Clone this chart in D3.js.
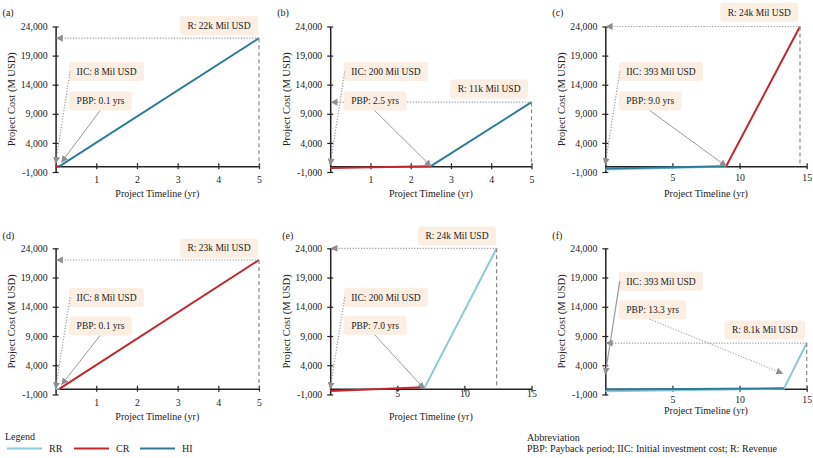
<!DOCTYPE html>
<html><head><meta charset="utf-8">
<script src="https://cdn.jsdelivr.net/npm/d3@7"></script>
<style>
body{margin:0;background:#fff}
svg text{font-family:"Liberation Serif","Times New Roman",Times,"Nimbus Roman","DejaVu Serif",serif !important;fill:#222}
</style></head><body>
<svg id="chart" width="813" height="458" font-family="Liberation Serif, Times New Roman, DejaVu Serif, serif"></svg>
<script>
// ---------- DATA ----------
const panelLabels = ["(a)","(b)","(c)","(d)","(e)","(f)"];
const xMaxes = [5,5,15,5,15,15];
const xTicksShort = [1,2,3,4,5];
const xTicksLong = [5,10,15];
const yTicks = [-1000,4000,9000,14000,19000,24000];
const seriesNames = ["RR","CR","HI"];

// [year, cumulative value (M USD)] per panel
const rrValues = [
  [],
  [],
  [[0,-560],[9,-60]],
  [[0,-10],[0.1,0]],
  [[7,0],[12.4,24000]],
  [[0,-450],[13.3,0],[15,7800]]
];
const crValues = [
  [[0,-10],[0.1,0]],
  [[0,-300],[2.5,0]],
  [[9,0],[14.5,24000]],
  [[0.1,0],[5,22000]],
  [[0,-400],[7,250]],
  []
];
const hiValues = [
  [[0.1,0],[5,22000]],
  [[2.5,0],[5,11000]],
  [[0,-400],[9,0]],
  [],
  [],
  [[0,-150],[13.3,50]]
];

const revenueLabels = ["R: 22k Mil USD","R: 11k Mil USD","R: 24k Mil USD","R: 23k Mil USD","R: 24k Mil USD","R: 8.1k Mil USD"];
const revenueX = [5,5,14.5,5,12.4,15];
const revenueY = [22000,11000,24000,22000,24000,7800];
const iicLabels = ["IIC: 8 Mil USD","IIC: 200 Mil USD","IIC: 393 Mil USD","IIC: 8 Mil USD","IIC: 200 Mil USD","IIC: 393 Mil USD"];
const iicTargetY = [500,200,300,0,0,2500];
const pbpLabels = ["PBP: 0.1 yrs","PBP: 2.5 yrs","PBP: 9.0 yrs","PBP: 0.1 yrs","PBP: 7.0 yrs","PBP: 13.3 yrs"];
const pbpTargetX = [0.15,2.5,9.0,0.15,7.0,13.2];
const pbpTargetY = [700,0,0,700,0,2600];

// ---------- LAYOUT ----------
const FONT = "'Liberation Serif','Times New Roman',Times,'DejaVu Serif',serif";
const colRanges = [[55.6,259],[330.2,531.5],[605.3,806.7]];
const rowRanges = [[172,26.5],[394.5,248.3]];
const revBoxRight = [258,528,798.3,258,496,805];   // px
const revBoxCy = [25.5,89,12.3,248,236,330];
const iicBoxCy = [71.5,71.5,71.5,297.5,297.2,281.2];
const pbpBoxCy = [101,101,101,326,325.3,309.7];
const xLabelDy = [13,13,11,14,5,11];
const xTitleY = [193.5,193.5,193.5,416.5,416.5,410];
const panelLabelDx = [53,53,53,53,48,53];
const panelLabelY = [12,12,12,235,235,235];
const colors = {RR:"#8cc8d8", CR:"#c1272d", HI:"#2f7c95"};

const svg = d3.select("#chart");
const defs = svg.append("defs");
defs.append("marker").attr("id","arr").attr("viewBox","0 0 10 10")
  .attr("refX",9).attr("refY",5).attr("markerWidth",7).attr("markerHeight",7)
  .attr("markerUnits","userSpaceOnUse").attr("orient","auto")
  .append("path").attr("d","M0,0L10,5L0,10z").attr("fill","#8f8f8f");

const fmt = d => d3.format(",")(d).replace("\u2212","-");
const grey = "#9a9a9a";

function T(sel, size){ return sel.style("font-family",FONT).style("font-size",size); }

panelLabels.forEach((lab,i)=>{
  const row = Math.floor(i/3), col = i%3;
  const x = d3.scaleLinear().domain([0,xMaxes[i]]).range(colRanges[col]);
  const y = d3.scaleLinear().domain([-1000,24000]).range(rowRanges[row]);
  const g = svg.append("g");
  const x0 = x(0);

  // panel label
  T(g.append("text").attr("x",x0-panelLabelDx[i]).attr("y",panelLabelY[i]).attr("dy","0.35em"),"10px").text(lab);

  // y axis
  const ya = g.append("g").attr("transform",`translate(${x0},0)`)
    .call(d3.axisLeft(y).tickValues(yTicks).tickFormat(fmt).tickSize(3).tickSizeOuter(0).tickPadding(5));
  ya.attr("font-family",null);
  ya.selectAll(".tick line").attr("x1",3).attr("x2",-3);
  ya.select(".domain").attr("stroke","#222").attr("stroke-width",1.5);
  ya.selectAll(".tick line").attr("stroke","#222").attr("stroke-width",1.2);
  T(ya.selectAll("text"),"9.8px").attr("fill","#222");

  // x axis at y=0
  const xt = xMaxes[i]===5 ? xTicksShort : xTicksLong;
  const xa = g.append("g").attr("transform",`translate(0,${y(0)})`)
    .call(d3.axisBottom(x).tickValues(xt).tickFormat(d=>String(d)).tickSize(3).tickSizeOuter(0));
  xa.attr("font-family",null);
  xa.selectAll(".tick line").attr("y1",-3).attr("y2",3).attr("stroke","#222").attr("stroke-width",1.2);
  xa.select(".domain").attr("stroke","#222").attr("stroke-width",1.5);
  T(xa.selectAll("text").attr("y",xLabelDy[i]).attr("dy","0.35em"),"9.8px").attr("fill","#222");

  // titles
  const yMid = (rowRanges[row][0]+rowRanges[row][1])/2;
  T(g.append("text").attr("transform",`translate(${x0-44},${yMid}) rotate(-90)`)
    .attr("text-anchor","middle").attr("dy","0.35em"),"10.5px").text("Project Cost (M USD)");
  T(g.append("text").attr("x",(x(0)+x(xMaxes[i]))/2).attr("y",xTitleY[i]).attr("dy","0.35em")
    .attr("text-anchor","middle"),"10px").text("Project Timeline (yr)");

  // series
  const line = d3.line().x(d=>x(d[0])).y(d=>y(d[1]));
  [["RR",rrValues[i]],["CR",crValues[i]],["HI",hiValues[i]]].forEach(([n,v])=>{
    if(v.length) g.append("path").datum(v).attr("d",line).attr("fill","none")
      .attr("stroke",colors[n]).attr("stroke-width",2);
  });

  // revenue guides
  const rx = x(revenueX[i]), ry = y(revenueY[i]);
  g.append("line").attr("x1",rx).attr("y1",ry).attr("x2",rx).attr("y2",y(0))
    .attr("stroke","#8a8a8a").attr("stroke-width",1.2).attr("stroke-dasharray","4,3");
  g.append("line").attr("x1",rx).attr("y1",ry).attr("x2",x0+1).attr("y2",ry)
    .attr("stroke",grey).attr("stroke-width",1.2).attr("stroke-dasharray","1.2,1.6").attr("marker-end","url(#arr)");

  function box(text, anchorX, cy, anchor){
    const t = T(g.append("text").attr("y",cy).attr("dy","0.35em"),"9.5px").text(text);
    const w = t.node().getComputedTextLength();
    const bw = w+15, bh = 19;
    const left = anchor==="right" ? anchorX-bw : anchorX;
    t.attr("x",left+7.5);
    g.insert("rect", () => t.node()).attr("x",left).attr("y",cy-bh/2).attr("width",bw).attr("height",bh)
      .attr("rx",3).attr("fill","#fbeee2");
    return {left, top:cy-bh/2, bottom:cy+bh/2, w:bw};
  }
  box(revenueLabels[i], revBoxRight[i], revBoxCy[i], "right");
  const ib = box(iicLabels[i], x0+13.5, iicBoxCy[i], "left");
  const pb = box(pbpLabels[i], x0+13.5, pbpBoxCy[i], "left");

  // IIC arrow
  g.append("line").attr("x1",ib.left+1).attr("y1",iicBoxCy[i]).attr("x2",x(0)).attr("y2",y(iicTargetY[i]))
    .attr("stroke",grey).attr("stroke-width",1.2)
    .attr("stroke-dasharray", i===5 ? null : "1.2,1.6").attr("marker-end","url(#arr)");
  // PBP arrow
  g.append("line").attr("x1",pb.left+31).attr("y1",pb.bottom).attr("x2",x(pbpTargetX[i])).attr("y2",y(pbpTargetY[i]))
    .attr("stroke",grey).attr("stroke-width",1)
    .attr("stroke-dasharray", i===5 ? "1.2,1.6" : null).attr("marker-end","url(#arr)");
});

// ---------- LEGEND ----------
const lg = svg.append("g");
T(lg.append("text").attr("x",5).attr("y",436).attr("dy","0.35em"),"10px").text("Legend");
const legX = [7,74,140];
seriesNames.forEach((n,k)=>{
  lg.append("line").attr("x1",legX[k]).attr("x2",legX[k]+35).attr("y1",448.5).attr("y2",448.5)
    .attr("stroke",colors[n]).attr("stroke-width",2);
  T(lg.append("text").attr("x",legX[k]+42).attr("y",448.5).attr("dy","0.35em"),"10px").text(n);
});
T(svg.append("text").attr("x",527).attr("y",437).attr("dy","0.35em"),"10px").text("Abbreviation");
T(svg.append("text").attr("x",527).attr("y",448.5).attr("dy","0.35em"),"10px")
  .text("PBP: Payback period; IIC: Initial investment  cost; R: Revenue");
</script>
</body></html>
